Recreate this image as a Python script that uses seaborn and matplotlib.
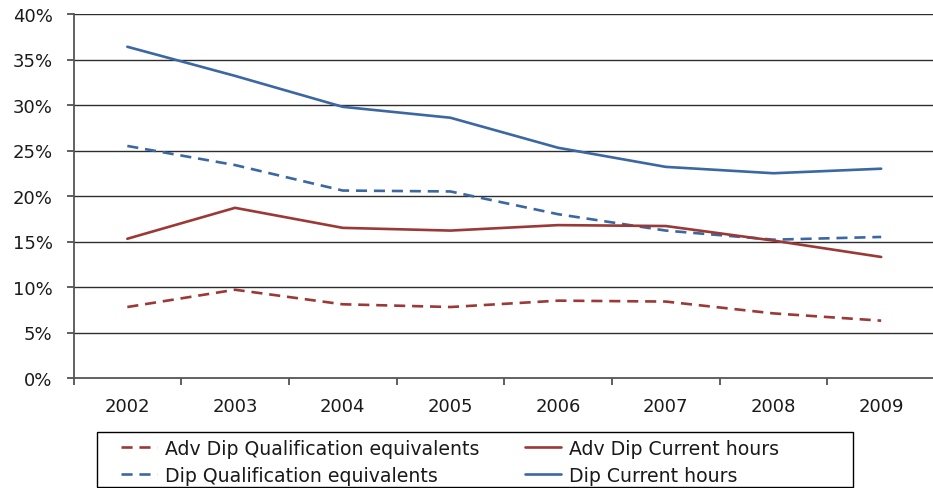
import matplotlib
matplotlib.use("Agg")
import matplotlib.pyplot as plt
from matplotlib.ticker import FixedLocator, FuncFormatter, NullFormatter
from matplotlib.lines import Line2D
from matplotlib.patches import Rectangle
import seaborn as sns
import pandas as pd

# Share of learners (%) by year and measure
years = [2002, 2003, 2004, 2005, 2006, 2007, 2008, 2009]
adv_dip_qual = [7.8, 9.7, 8.1, 7.8, 8.5, 8.4, 7.1, 6.3]
adv_dip_cur = [15.3, 18.7, 16.5, 16.2, 16.8, 16.7, 15.1, 13.3]
dip_qual = [25.5, 23.4, 20.6, 20.5, 18.0, 16.2, 15.2, 15.5]
dip_cur = [36.4, 33.2, 29.8, 28.6, 25.3, 23.2, 22.5, 23.0]

series_names = [
    "Adv Dip Qualification equivalents",
    "Dip Qualification equivalents",
    "Adv Dip Current hours",
    "Dip Current hours",
]
series_values = [adv_dip_qual, dip_qual, adv_dip_cur, dip_cur]
y_ticks = [0, 5, 10, 15, 20, 25, 30, 35, 40]

RED = "#9B3936"
BLUE = "#3B67A2"
colors = {series_names[0]: RED, series_names[1]: BLUE,
          series_names[2]: RED, series_names[3]: BLUE}
dash_pat = (4.2, 2.6)
dashes = {series_names[0]: dash_pat, series_names[1]: dash_pat,
          series_names[2]: "", series_names[3]: ""}

df = pd.DataFrame(
    [(y, name, v) for name, vals in zip(series_names, series_values)
     for y, v in zip(years, vals)],
    columns=["year", "series", "value"],
)

sns.set_style("white")
plt.rcParams["font.family"] = ["DejaVu Sans"]

W, H = 933, 489
fig = plt.figure(figsize=(W / 100, H / 100), dpi=100)
left_px, right_px, top_px, bottom_px = 73.5, 935.0, 15.0, 379.0
ax = fig.add_axes([left_px / W, 1 - bottom_px / H,
                   (right_px - left_px) / W, (bottom_px - top_px) / H])

sns.lineplot(data=df, x="year", y="value", hue="series", style="series",
             palette=colors, dashes=dashes, linewidth=1.9, ax=ax,
             legend=False)

ax.set_xlim(2001.5, 2009.5)
ax.set_ylim(0, 40)
ax.set_xlabel("")
ax.set_ylabel("")

# horizontal gridlines
ax.yaxis.set_major_locator(FixedLocator(y_ticks))
ax.yaxis.set_major_formatter(FuncFormatter(lambda v, p: f"{v:.0f}%"))
for t in y_ticks[1:]:
    ax.axhline(t, color="#2e2e2e", lw=1.0, zorder=0)

# category boundaries carry tick marks; labels sit at category centres
ax.xaxis.set_major_locator(FixedLocator([y - 0.5 for y in years] + [years[-1] + 0.5]))
ax.xaxis.set_major_formatter(NullFormatter())
ax.xaxis.set_minor_locator(FixedLocator(years))
ax.xaxis.set_minor_formatter(FuncFormatter(lambda v, p: f"{int(round(v))}"))
ax.tick_params(axis="x", which="major", direction="out", length=5,
               width=1.2, color="#444444", bottom=True)
ax.tick_params(axis="x", which="minor", length=0, pad=13.5,
               labelsize=13, labelcolor="#1a1a1a")
ax.tick_params(axis="y", which="major", direction="out", length=5,
               width=1.2, color="#444444", left=True, pad=10,
               labelsize=13, labelcolor="#1a1a1a")

for side in ["top", "right"]:
    ax.spines[side].set_visible(False)
for side in ["left", "bottom"]:
    ax.spines[side].set_color("#555555")
    ax.spines[side].set_linewidth(1.3)

handles = []
for n in series_names:
    h = Line2D([], [], color=colors[n], lw=1.9)
    if dashes[n]:
        h.set_dashes(dash_pat)
    handles.append(h)

leg = fig.legend(handles, series_names, ncol=2,
                 loc="upper left",
                 bbox_to_anchor=(121 / W, 1 - 440 / H),
                 fontsize=13.6, frameon=False,
                 handlelength=1.9, handletextpad=0.45,
                 columnspacing=2.4, borderaxespad=0, borderpad=0,
                 labelspacing=0.42)
for t in leg.get_texts():
    t.set_color("#1a1a1a")

# legend frame
fig.patches.append(Rectangle((97 / W, 1 - 488 / H), (853 - 97) / W, (488 - 433) / H,
                             transform=fig.transFigure, fill=False,
                             edgecolor="#000000", lw=1.0))

fig.savefig("out.png", dpi=100)
